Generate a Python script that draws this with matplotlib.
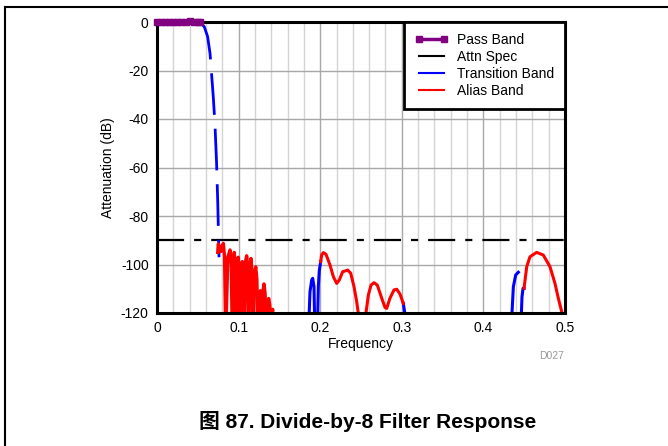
import matplotlib
matplotlib.use("Agg")
import matplotlib.pyplot as plt
from matplotlib.lines import Line2D
import numpy as np

plt.rcParams["font.family"] = ["Liberation Sans", "Noto Sans CJK SC", "DejaVu Sans"]
plt.rcParams["font.size"] = 10
plt.rcParams["axes.unicode_minus"] = False

# --- Data ------------------------------------------------------------------
NULL = -130  # lobe nulls fall below the -120 floor

pass_f = [0.0, 0.005, 0.01, 0.015, 0.02, 0.025, 0.03, 0.035, 0.04, 0.045, 0.05, 0.053]
pass_db = [0.0, 0.0, 0.0, 0.0, 0.0, 0.0, 0.0, 0.1, 0.4, 0.1, 0.0, 0.0]

attn_f = [0.0, 0.5]
attn_db = [-90, -90]

trans_f = [0.050, 0.054, 0.058, 0.062, 0.065, 0.067, 0.069, 0.071, 0.073, 0.0745, 0.0755, 0.076]
trans_db = [0.0, -0.5, -2, -6, -13, -22, -31, -42, -58, -75, -90, -97]

# small transition-band fragments near 0.19 / 0.30 / 0.44
trans2_f = [0.1854, 0.1875, 0.1896, 0.1908, 0.1924, 0.1936]
trans2_db = [NULL, -111.2, -106.4, -105.7, -109.1, NULL]
trans3_f = [0.1964, 0.1977, 0.1989, 0.2006]
trans3_db = [NULL, -109.1, -102.5, -98.8]
trans4_f = [0.3018, 0.3039, 0.3050]
trans4_db = [-116.0, -120.5, NULL]
trans5_f = [0.4335, 0.4367, 0.4396, 0.4428]
trans5_db = [NULL, -109.2, -104.3, -103.2]
trans6_f = [0.4455, 0.4473, 0.4486, 0.4498]
trans6_db = [NULL, -113.3, -109.8, -109.8]

alias1_f = [0.0744, 0.0751, 0.0766, 0.0781, 0.0797, 0.0813, 0.0828, 0.0842,
            0.0868, 0.0895, 0.0910, 0.0923,
            0.0935, 0.0947, 0.0960, 0.0972,
            0.0984, 0.0996, 0.1008, 0.1021,
            0.1033, 0.1045, 0.1058, 0.1070,
            0.1084, 0.1099, 0.1112, 0.1124,
            0.1138, 0.1152, 0.1164, 0.1176,
            0.1193, 0.1210, 0.1224, 0.1238,
            0.1252, 0.1266, 0.1277, 0.1287,
            0.1299, 0.1311, 0.1325, 0.1339,
            0.1354, 0.1369, 0.1383, 0.1397,
            0.1408, 0.1418, 0.1425]
alias1_db = [-95, -91.5, -93, -94.7, -92.5, -91.3, -97, NULL,
             -97, -94, -100, NULL,
             -98, -95, -101, NULL,
             -100, -97, -103, NULL,
             -101, -98.8, -104, NULL,
             -99, -96.4, -101, NULL,
             -100, -97.5, -103, NULL,
             -104, -101, -106, NULL,
             -114, -110.8, -115, NULL,
             -111, -108, -112, NULL,
             -116, -114, -117, NULL,
             -120, -118.5, NULL]

alias2_f = [0.2006, 0.2018, 0.2038, 0.2071, 0.2120, 0.2161, 0.2202, 0.2234, 0.2275,
            0.2337, 0.2374, 0.2414, 0.2447, 0.2467, 0.2475,
            0.2555, 0.2561, 0.2590, 0.2623, 0.2659, 0.2700, 0.2754, 0.2794, 0.2815,
            0.2855, 0.2904, 0.2938, 0.2978, 0.3018]
alias2_db = [-98.8, -96.1, -95.1, -95.8, -100.2, -105.0, -107.8, -106.4, -103.0,
             -102.3, -103.6, -109.1, -115.3, -120.1, NULL,
             NULL, -120.0, -112.6, -108.5, -107.5, -108.5, -113.9, -117.7, -118.1,
             -113.9, -110.5, -110.2, -112.2, -116.0]

alias3_f = [0.4498, 0.4531, 0.4571, 0.4653, 0.4734, 0.4816, 0.4877, 0.4918, 0.4960, 0.4975]
alias3_db = [-109.8, -100.9, -96.8, -95.0, -96.1, -100.9, -107.8, -113.9, -119.5, NULL]

x_ticks = [0, 0.1, 0.2, 0.3, 0.4, 0.5]
x_ticklabels = ["0", "0.1", "0.2", "0.3", "0.4", "0.5"]
y_ticks = [-120, -100, -80, -60, -40, -20, 0]

PURPLE = "#800080"
BLUE = "#0000FF"
RED = "#FF0000"

# --- Figure ----------------------------------------------------------------
fig = plt.figure(figsize=(6.68, 4.46), dpi=100)
ax = fig.add_axes([157 / 668, 1 - 313 / 446, 408 / 668, 291 / 446])

ax.set_xlim(0, 0.5)
ax.set_ylim(-120, 0)
ax.set_xticks(x_ticks)
ax.set_xticklabels(x_ticklabels)
ax.set_xticks(np.arange(0, 0.5001, 0.02), minor=True)
ax.set_yticks(y_ticks)
ax.tick_params(length=0, which="both", labelsize=10, pad=6)
ax.grid(which="minor", axis="x", color="#d4d4d4", lw=1.0)
ax.grid(which="major", axis="x", color="#a8a8a8", lw=1.0)
ax.grid(which="major", axis="y", color="#a8a8a8", lw=1.0)
ax.set_axisbelow(True)
for s in ax.spines.values():
    s.set_linewidth(2.2)
    s.set_zorder(5)

ax.plot(attn_f, attn_db, color="black", lw=1.6, dashes=(12.2, 4.5, 3.2, 4.5),
        label="Attn Spec", zorder=3)

ax.plot(trans_f, trans_db, color=BLUE, lw=2.0, dashes=(15, 5),
        label="Transition Band", zorder=3)
for f, d in [(trans2_f, trans2_db), (trans3_f, trans3_db), (trans4_f, trans4_db),
             (trans5_f, trans5_db), (trans6_f, trans6_db)]:
    ax.plot(f, d, color=BLUE, lw=2.2, zorder=3)

ax.plot(alias1_f, alias1_db, color=RED, lw=2.4, label="Alias Band", zorder=3)
ax.plot(alias2_f, alias2_db, color=RED, lw=2.2, zorder=3)
ax.plot(alias3_f, alias3_db, color=RED, lw=2.2, zorder=3)

ax.plot(pass_f, pass_db, color=PURPLE, lw=3, marker="s", ms=4.5,
        label="Pass Band", zorder=6, clip_on=False)

ax.set_xlabel("Frequency", fontsize=10, labelpad=1)
ax.set_ylabel("Attenuation (dB)", fontsize=10, labelpad=4)

handles = [
    Line2D([0, 1], [0, 0], color=PURPLE, lw=2.5, marker="s", ms=4.5),
    Line2D([0, 1], [0, 0], color="black", lw=1.5),
    Line2D([0, 1], [0, 0], color=BLUE, lw=1.5),
    Line2D([0, 1], [0, 0], color=RED, lw=1.5),
]
leg = ax.legend(handles, ["Pass Band", "Attn Spec", "Transition Band", "Alias Band"],
                loc="upper right", borderaxespad=0, fancybox=False, framealpha=1,
                edgecolor="black", fontsize=10, handlelength=2.4, numpoints=2,
                handletextpad=0.6, labelspacing=0.22, borderpad=0.8)
leg.get_frame().set_linewidth(2.0)
leg.set_zorder(7)

fig.text(552 / 668, 1 - 356 / 446, "D027", color="#999999", fontsize=7.5,
         ha="center", va="center")
fig.text(368 / 668, 1 - 422 / 446, "图 87. Divide-by-8 Filter Response",
         fontsize=15, fontweight="bold", ha="center", va="center")

# page frame (left and top rules)
fig.add_artist(Line2D([5 / 668, 5 / 668], [0, 1 - 7 / 446], color="black", lw=1.5))
fig.add_artist(Line2D([5 / 668, 1], [1 - 7 / 446, 1 - 7 / 446], color="black", lw=1.5))

fig.savefig("out.png", dpi=100)
